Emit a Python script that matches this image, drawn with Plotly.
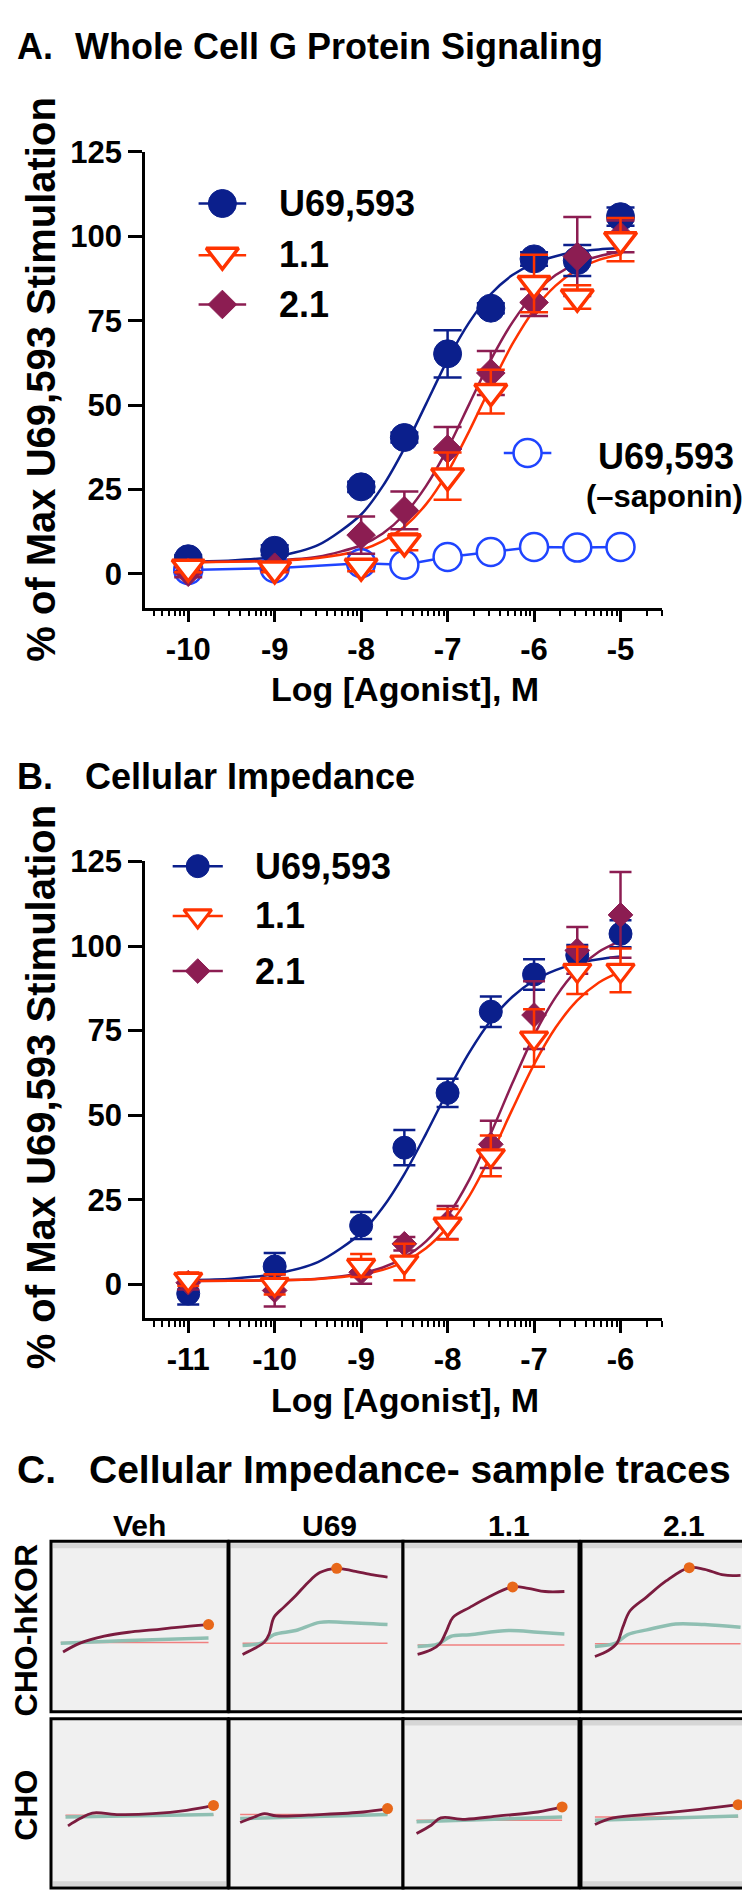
import numpy as np
import plotly.graph_objects as go

W, H = 750, 1890
FONT = "Liberation Sans, Arial, sans-serif"

NAVY = "#0b1f8c"
RED = "#ff3300"
MAROON = "#8c1d52"
SAP = "#1f44ff"
C_RESP = "#7b1c3f"
C_TEAL = "#8fbfb2"
C_BASE = "#f08080"
C_DOT = "#e8681a"
CELL_BG = "#f0f0f0"

# ---------------- Panel A data ----------------
A_LOG = [-10, -9, -8, -7.5, -7, -6.5, -6, -5.5, -5]
A_U69 = [4.5, 7.0, 25.8, 40.4, 65.2, 78.7, 93.3, 92.8, 105.8]
A_U69_ERR = [1.0, 1.5, 1.5, 1.5, 7.0, 1.5, 2.0, 4.6, 2.7]
A_11 = [2.0, 1.5, 2.3, 9.5, 29.0, 54.0, 86.0, 82.0, 99.0]
A_11_ERR = [1.5, 1.0, 1.5, 2.5, 7.0, 6.5, 8.5, 3.5, 6.4]
A_21 = [0.5, 2.0, 11.5, 18.8, 37.0, 59.5, 80.4, 94.0, 100.0]
A_21_ERR = [1.5, 1.0, 5.5, 5.6, 6.5, 6.5, 4.0, 11.7, 4.7]
A_SAP = [1.2, 1.7, 3.2, 2.7, 5.0, 6.5, 8.0, 7.8, 8.0]

A_FIT_X = [-10, -9.5, -9, -8.5, -8, -7.75, -7.5, -7.25, -7, -6.75, -6.5, -6.25, -6, -5.75, -5.5, -5.25, -5]
A_FIT_U69 = [3.7, 4.0, 5.1, 8.5, 17.6, 26.0, 37.2, 50.3, 63.4, 74.5, 82.9, 88.5, 92.0, 94.1, 95.4, 96.1, 96.5]
A_FIT_11 = [3.5, 3.6, 3.9, 4.7, 7.1, 9.7, 14.0, 20.6, 30.1, 42.3, 55.6, 68.1, 78.2, 85.4, 90.1, 93.0, 94.7]
A_FIT_21 = [3.5, 3.7, 4.0, 5.1, 8.5, 12.0, 17.6, 26.0, 37.1, 50.3, 63.4, 74.5, 82.9, 88.5, 92.0, 94.1, 95.4]

# ---------------- Panel B data ----------------
B_LOG = [-11, -10, -9, -8.5, -8, -7.5, -7, -6.5, -6]
B_U69 = [-2.7, 5.3, 17.4, 40.4, 56.6, 80.6, 91.6, 97.3, 103.6]
B_U69_ERR = [3.2, 4.0, 4.0, 5.2, 4.2, 4.5, 4.5, 3.0, 4.0]
B_11 = [1.5, 0.0, 5.6, 6.6, 17.8, 38.0, 72.8, 92.8, 92.8]
B_11_ERR = [2.0, 3.0, 3.4, 5.4, 4.5, 6.0, 8.5, 7.0, 6.5]
B_21 = [0.5, -1.8, 3.6, 12.0, 18.3, 41.4, 79.6, 98.7, 109.2]
B_21_ERR = [2.0, 4.7, 3.4, 2.0, 4.9, 7.0, 10.0, 6.9, 12.7]

B_FIT_X = [-11, -10.5, -10, -9.5, -9, -8.75, -8.5, -8.25, -8, -7.75, -7.5, -7.25, -7, -6.75, -6.5, -6.25, -6]
B_FIT_U69 = [1.3, 1.7, 3.1, 6.6, 15.2, 22.7, 32.6, 44.5, 57.0, 68.5, 78.0, 85.0, 89.8, 92.9, 94.9, 96.1, 96.9]
B_FIT_11 = [1.0, 1.1, 1.2, 1.6, 2.9, 4.3, 6.7, 10.7, 17.0, 26.1, 38.1, 51.8, 65.0, 75.9, 83.9, 89.2, 92.4]
B_FIT_21 = [1.0, 1.1, 1.2, 1.7, 3.3, 5.0, 8.0, 12.7, 20.2, 30.9, 44.6, 59.5, 73.6, 84.9, 93.0, 98.3, 101.5]

Y_TICKS = [0, 25, 50, 75, 100, 125]
A_XTICKS = [-10, -9, -8, -7, -6, -5]
B_XTICKS = [-11, -10, -9, -8, -7, -6]

# ---------------- Panel C sample traces (normalised time / signal) ----------------
KOR_VEH_RT = [.068, .164, .301, .438, .575, .712, .89]
KOR_VEH_RV = [.350, .402, .443, .466, .480, .495, .511]
KOR_VEH_TT = [.055, .438, .89]
KOR_VEH_TV = [.402, .417, .433]
KOR_VEH_BASE = .406

KOR_U69_RT = [.078, .161, .203, .231, .258, .314, .383, .453, .522, .619, .717, .828, .911]
KOR_U69_RV = [.336, .379, .408, .456, .553, .612, .680, .757, .816, .841, .825, .802, .790]
KOR_U69_TT = [.078, .189, .258, .383, .522, .661, .911]
KOR_U69_TV = [.388, .404, .452, .476, .524, .524, .511]
KOR_U69_BASE = .402

KOR_11_RT = [.083, .160, .209, .248, .284, .380, .490, .623, .711, .807, .917]
KOR_11_RV = [.336, .363, .398, .476, .553, .612, .674, .732, .724, .705, .705]
KOR_11_TT = [.083, .201, .270, .380, .601, .766, .917]
KOR_11_TV = [.383, .398, .441, .452, .476, .466, .456]
KOR_11_BASE = .392

KOR_21_RT = [.080, .157, .207, .240, .282, .378, .489, .622, .710, .820, .917]
KOR_21_RV = [.324, .359, .402, .495, .592, .674, .767, .845, .835, .802, .800]
KOR_21_TT = [.080, .199, .268, .378, .544, .710, .917]
KOR_21_TV = [.383, .402, .452, .480, .515, .511, .495]
KOR_21_BASE = .398

CHO_VEH_RT = [.096, .164, .233, .384, .575, .767, .918]
CHO_VEH_RV = [.367, .410, .443, .434, .439, .459, .488]
CHO_VEH_TT = [.082, .918]
CHO_VEH_TV = [.420, .434]
CHO_VEH_BASE = .430

CHO_U69_RT = [.064, .133, .203, .272, .522, .772, .911]
CHO_U69_RV = [.387, .414, .439, .426, .434, .449, .469]
CHO_U69_TT = [.064, .911]
CHO_U69_TV = [.410, .434]
CHO_U69_BASE = .434

CHO_11_RT = [.077, .160, .215, .353, .545, .766, .904]
CHO_11_RV = [.322, .371, .414, .406, .426, .449, .479]
CHO_11_TT = [.077, .904]
CHO_11_TV = [.391, .420]
CHO_11_BASE = .400

CHO_21_RT = [.080, .185, .434, .682, .903]
CHO_21_RV = [.375, .414, .439, .465, .492]
CHO_21_TT = [.080, .903]
CHO_21_TV = [.400, .426]
CHO_21_BASE = .420

COL_HEADERS = ["Veh", "U69", "1.1", "2.1"]
ROW_LABELS = ["CHO-hKOR", "CHO"]

# ---------------- layout geometry (pixels) ----------------
PLOT_X = (137, 654)
A_Y = (128, 588)
B_Y = (844, 1305)
CELL_COLS = [(43, 220), (221, 395), (395, 571), (573, 747)]
CELL_ROWS = [(1530, 1702), (1709, 1880)]


def dom_x(a, b):
    return [a / W, b / W]


def dom_y(top, bottom):
    return [1 - bottom / H, 1 - top / H]


def ann(text, x, y, size, xanchor="left", angle=0, yanchor="middle"):
    return dict(text=text, x=x / W, y=1 - y / H, xref="paper", yref="paper",
                showarrow=False, xanchor=xanchor, yanchor=yanchor, textangle=angle,
                font=dict(family=FONT, size=size, color="black", weight="bold"))


fig = go.Figure()


def add_curve(xs, ys, color, xa, ya):
    fig.add_trace(go.Scatter(x=xs, y=ys, mode="lines", xaxis=xa, yaxis=ya,
                             line=dict(color=color, width=2.5, shape="spline", smoothing=0.8),
                             showlegend=False, hoverinfo="skip"))


def add_points(xs, ys, err, color, symbol, size, fill, lw, capw, xa, ya):
    fig.add_trace(go.Scatter(
        x=xs, y=ys, mode="markers", xaxis=xa, yaxis=ya, showlegend=False,
        marker=dict(symbol=symbol, size=size, color=fill, line=dict(color=color, width=lw)),
        error_y=dict(type="data", array=err, visible=True, color=color, thickness=2.5, width=capw),
        cliponaxis=False))


# ---- Panel A ----
add_curve(A_FIT_X, A_FIT_U69, NAVY, "x", "y")
add_curve(A_FIT_X, A_FIT_21, MAROON, "x", "y")
add_curve(A_FIT_X, A_FIT_11, RED, "x", "y")
fig.add_trace(go.Scatter(x=A_LOG, y=A_SAP, mode="lines+markers", xaxis="x", yaxis="y",
                         line=dict(color=SAP, width=2.5),
                         marker=dict(symbol="circle", size=28, color="white", line=dict(color=SAP, width=2.5)),
                         showlegend=False, cliponaxis=False))
add_points(A_LOG, A_U69, A_U69_ERR, NAVY, "circle", 28, NAVY, 1, 14, "x", "y")
add_points(A_LOG, A_21, A_21_ERR, MAROON, "diamond", 22, MAROON, 1, 14, "x", "y")
add_points(A_LOG, A_11, A_11_ERR, RED, "triangle-down", 28, "white", 3.5, 14, "x", "y")

# ---- Panel B ----
add_curve(B_FIT_X, B_FIT_U69, NAVY, "x2", "y2")
add_curve(B_FIT_X, B_FIT_21, MAROON, "x2", "y2")
add_curve(B_FIT_X, B_FIT_11, RED, "x2", "y2")
add_points(B_LOG, B_U69, B_U69_ERR, NAVY, "circle", 23, NAVY, 1, 11, "x2", "y2")
add_points(B_LOG, B_21, B_21_ERR, MAROON, "diamond", 19, MAROON, 1, 11, "x2", "y2")
add_points(B_LOG, B_11, B_11_ERR, RED, "triangle-down", 24, "white", 3.2, 11, "x2", "y2")


# ---- legend glyphs (drawn manually, large like the original) ----
def legend_glyph(xa, ya, x0, x1, yv, color, symbol, size, fill, lw):
    fig.add_trace(go.Scatter(x=[x0, x1], y=[yv, yv], mode="lines", xaxis=xa, yaxis=ya,
                             line=dict(color=color, width=2.5), showlegend=False,
                             hoverinfo="skip", cliponaxis=False))
    fig.add_trace(go.Scatter(x=[(x0 + x1) / 2], y=[yv], mode="markers", xaxis=xa, yaxis=ya,
                             marker=dict(symbol=symbol, size=size, color=fill, line=dict(color=color, width=lw)),
                             showlegend=False, hoverinfo="skip", cliponaxis=False))


legend_glyph("x", "y", -9.88, -9.33, 109.7, NAVY, "circle", 28, NAVY, 1)
legend_glyph("x", "y", -9.88, -9.33, 94.4, RED, "triangle-down", 28, "white", 3.5)
legend_glyph("x", "y", -9.88, -9.33, 79.8, MAROON, "diamond", 22, MAROON, 1)
legend_glyph("x", "y", -6.35, -5.8, 35.8, SAP, "circle", 28, "white", 2.5)

legend_glyph("x2", "y2", -11.18, -10.6, 123.6, NAVY, "circle", 23, NAVY, 1)
legend_glyph("x2", "y2", -11.18, -10.6, 108.9, RED, "triangle-down", 24, "white", 3.2)
legend_glyph("x2", "y2", -11.18, -10.6, 92.6, MAROON, "diamond", 19, MAROON, 1)

# ---- Panel C traces ----
CELLS = [
    (0, 0, KOR_VEH_RT, KOR_VEH_RV, KOR_VEH_TT, KOR_VEH_TV, KOR_VEH_BASE),
    (0, 1, KOR_U69_RT, KOR_U69_RV, KOR_U69_TT, KOR_U69_TV, KOR_U69_BASE),
    (0, 2, KOR_11_RT, KOR_11_RV, KOR_11_TT, KOR_11_TV, KOR_11_BASE),
    (0, 3, KOR_21_RT, KOR_21_RV, KOR_21_TT, KOR_21_TV, KOR_21_BASE),
    (1, 0, CHO_VEH_RT, CHO_VEH_RV, CHO_VEH_TT, CHO_VEH_TV, CHO_VEH_BASE),
    (1, 1, CHO_U69_RT, CHO_U69_RV, CHO_U69_TT, CHO_U69_TV, CHO_U69_BASE),
    (1, 2, CHO_11_RT, CHO_11_RV, CHO_11_TT, CHO_11_TV, CHO_11_BASE),
    (1, 3, CHO_21_RT, CHO_21_RV, CHO_21_TT, CHO_21_TV, CHO_21_BASE),
]

layout_axes = {}
shapes = []
for i, (r, c, rt, rv, tt, tv, base) in enumerate(CELLS):
    n = i + 3
    xa, ya = f"x{n}", f"y{n}"
    x0, x1 = CELL_COLS[c]
    y0, y1 = CELL_ROWS[r]
    layout_axes[f"xaxis{n}"] = dict(domain=dom_x(x0, x1), range=[0, 1], visible=False, anchor=ya, fixedrange=True)
    layout_axes[f"yaxis{n}"] = dict(domain=dom_y(y0, y1), range=[0, 1], visible=False, anchor=xa, fixedrange=True)
    shapes.append(dict(type="rect", xref="paper", yref="paper", x0=x0 / W, x1=x1 / W,
                       y0=1 - y1 / H, y1=1 - y0 / H, fillcolor=CELL_BG,
                       line=dict(color="black", width=3), layer="below"))
    # subtle grey strip near the frame edge
    if r == 0 or c >= 2:
        shapes.append(dict(type="rect", xref="paper", yref="paper", x0=(x0 + 2) / W, x1=(x1 - 2) / W,
                           y0=1 - (y0 + 7) / H, y1=1 - (y0 + 2) / H, fillcolor="#d6d6d6",
                           line=dict(width=0), layer="below"))
    if r == 1 and c in (0, 3):
        shapes.append(dict(type="rect", xref="paper", yref="paper", x0=(x0 + 2) / W, x1=(x1 - 2) / W,
                           y0=1 - (y1 - 2) / H, y1=1 - (y1 - 7) / H, fillcolor="#d6d6d6",
                           line=dict(width=0), layer="below"))
    fig.add_trace(go.Scatter(x=[tt[0], max(rt[-1], tt[-1])], y=[base, base], mode="lines", xaxis=xa, yaxis=ya,
                             line=dict(color=C_BASE, width=1.5), showlegend=False, hoverinfo="skip"))
    fig.add_trace(go.Scatter(x=tt, y=tv, mode="lines", xaxis=xa, yaxis=ya,
                             line=dict(color=C_TEAL, width=3.5, shape="spline"), showlegend=False, hoverinfo="skip"))
    fig.add_trace(go.Scatter(x=rt, y=rv, mode="lines", xaxis=xa, yaxis=ya,
                             line=dict(color=C_RESP, width=2.8, shape="spline"), showlegend=False, hoverinfo="skip"))
    k = int(np.argmax(rv))
    fig.add_trace(go.Scatter(x=[rt[k]], y=[rv[k]], mode="markers", xaxis=xa, yaxis=ya,
                             marker=dict(color=C_DOT, size=11), showlegend=False, hoverinfo="skip",
                             cliponaxis=False))


def minor_vals(lo, hi):
    vals = []
    for d in range(-12, -3):
        for m in range(2, 10):
            v = d + np.log10(m)
            if lo - 1e-9 <= v <= hi + 1e-9:
                vals.append(float(v))
    return vals


TICKFONT = dict(family=FONT, size=31, color="black", weight="bold")


def xaxis_cfg(rng, ticks, anchor):
    return dict(domain=dom_x(*PLOT_X), range=rng, anchor=anchor, showline=True, linecolor="black",
                linewidth=2.5, ticks="outside", ticklen=12, tickwidth=2.5, tickcolor="black",
                tickmode="array", tickvals=ticks, ticktext=[str(t) for t in ticks],
                tickfont=TICKFONT, showgrid=False, zeroline=False, fixedrange=True,
                minor=dict(tickmode="array", tickvals=minor_vals(rng[0], rng[1]), ticks="outside",
                           ticklen=6, tickwidth=2, tickcolor="black", showgrid=False))


def yaxis_cfg(top, bottom, anchor):
    return dict(domain=dom_y(top, bottom), range=[-10, 125], anchor=anchor, showline=True,
                linecolor="black", linewidth=2.5, ticks="outside", ticklen=14, tickwidth=2.5,
                tickcolor="black", tickmode="array", tickvals=Y_TICKS,
                ticktext=[str(t) for t in Y_TICKS], tickfont=TICKFONT, showgrid=False,
                zeroline=False, fixedrange=True)


annotations = [
    ann("A.", 7, 22, 36),
    ann("Whole Cell G Protein Signaling", 65, 22, 36),
    ann("% of Max U69,593 Stimulation", 33, 358, 40, xanchor="center", angle=-90),
    ann("Log [Agonist], M", 397, 670, 34, xanchor="center"),
    ann("U69,593", 269, 180, 36),
    ann("1.1", 269, 232, 36),
    ann("2.1", 269, 282, 36),
    ann("U69,593", 658, 435, 36, xanchor="center"),
    ann("(\u2013saponin)", 656, 476, 31, xanchor="center"),
    ann("B.", 7, 758, 36),
    ann("Cellular Impedance", 75, 758, 36),
    ann("% of Max U69,593 Stimulation", 33, 1072, 40, xanchor="center", angle=-90),
    ann("Log [Agonist], M", 397, 1387, 34, xanchor="center"),
    ann("U69,593", 245, 849, 36),
    ann("1.1", 245, 899, 36),
    ann("2.1", 245, 955, 36),
    ann("C.", 7, 1458, 39),
    ann("Cellular Impedance- sample traces", 79, 1458, 39),
    ann(COL_HEADERS[0], 131, 1514, 30, xanchor="center"),
    ann(COL_HEADERS[1], 321, 1514, 30, xanchor="center"),
    ann(COL_HEADERS[2], 501, 1514, 30, xanchor="center"),
    ann(COL_HEADERS[3], 676, 1514, 30, xanchor="center"),
    ann(ROW_LABELS[0], 18, 1620, 32, xanchor="center", angle=-90),
    ann(ROW_LABELS[1], 18, 1797, 32, xanchor="center", angle=-90),
]

fig.update_layout(
    width=W, height=H, margin=dict(l=0, r=0, t=0, b=0),
    paper_bgcolor="white", plot_bgcolor="white", showlegend=False,
    font=dict(family=FONT, color="black"),
    xaxis=xaxis_cfg([-10.5, -4.52], A_XTICKS, "y"),
    yaxis=yaxis_cfg(*A_Y, "x"),
    xaxis2=xaxis_cfg([-11.5, -5.52], B_XTICKS, "y2"),
    yaxis2=yaxis_cfg(*B_Y, "x2"),
    annotations=annotations,
    shapes=shapes,
    **layout_axes,
)

fig.write_html("out.html")
